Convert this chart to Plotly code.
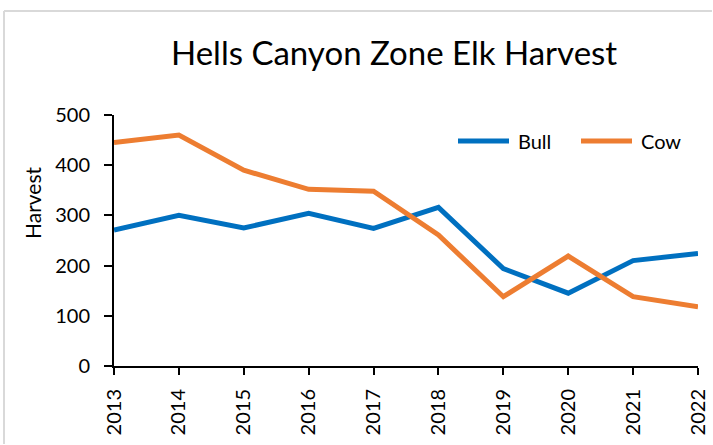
import plotly.graph_objects as go

years = [2013, 2014, 2015, 2016, 2017, 2018, 2019, 2020, 2021, 2022]
bull = [271, 300, 275, 304, 274, 316, 194, 145, 210, 224]
cow = [445, 460, 390, 352, 348, 261, 138, 219, 138, 118]
series_names = ["Bull", "Cow"]
colors = ["#0070C0", "#ED7D31"]

FONT = "Lato, Open Sans, sans-serif"
W, H = 713, 445
L, R, T, B = 114, 15, 115, 79
PW, PH = W - L - R, H - T - B


def px(x):
    return (x - L) / PW


def py(y):
    return (H - B - y) / PH


fig = go.Figure()
for name, vals, col in zip(series_names, [bull, cow], colors):
    fig.add_trace(go.Scatter(x=years, y=vals, mode="lines", name=name,
                             line=dict(color=col, width=5)))

# chart-area border (left and top edges visible in the reference)
shapes = [
    dict(type="line", xref="paper", yref="paper",
         x0=px(4), x1=px(4), y0=py(H - 1), y1=py(11),
         line=dict(color="#d9d9d9", width=2), layer="below"),
    dict(type="line", xref="paper", yref="paper",
         x0=px(4), x1=px(W - 1), y0=py(11), y1=py(11),
         line=dict(color="#d9d9d9", width=2), layer="below"),
]
annotations = []
# manual legend (wider line samples like the reference)
legend_items = [(456, 511, 516), (579, 634, 639)]
for (x0, x1, xt), name, col in zip(legend_items, series_names, colors):
    shapes.append(dict(type="line", xref="paper", yref="paper",
                       x0=px(x0 + 2), x1=px(x1 - 2), y0=py(141), y1=py(141),
                       line=dict(color=col, width=5)))
    annotations.append(dict(text=name, xref="paper", yref="paper",
                            x=px(xt), y=py(141), xanchor="left", yanchor="middle",
                            showarrow=False, font=dict(family=FONT, size=20, color="black")))

annotations.append(dict(text="Harvest", xref="paper", yref="paper",
                        x=px(32), y=py(203), xanchor="center", yanchor="middle",
                        textangle=-90, showarrow=False,
                        font=dict(family=FONT, size=21, color="black")))
annotations.append(dict(text="Hells Canyon Zone Elk Harvest", xref="paper", yref="paper",
                        x=px(394), y=py(52), xanchor="center", yanchor="middle",
                        showarrow=False,
                        font=dict(family=FONT, size=33, color="black")))

fig.update_layout(
    width=W, height=H,
    margin=dict(l=L, r=R, t=T, b=B, autoexpand=False),
    paper_bgcolor="white", plot_bgcolor="white",
    font=dict(family=FONT, size=20, color="black"),
    showlegend=False,
    xaxis=dict(range=[years[0], years[-1]], tickmode="array", tickvals=years,
               ticktext=[str(y) for y in years], tickangle=-90,
               showline=True, linecolor="black", linewidth=2,
               ticks="outside", tickcolor="black", ticklen=7, tickwidth=2,
               ticklabelstandoff=6, automargin=False,
               showgrid=False, zeroline=False, fixedrange=True),
    yaxis=dict(range=[0, 500], tickvals=[0, 100, 200, 300, 400, 500],
               showline=True, linecolor="black", linewidth=2,
               ticks="outside", tickcolor="black", ticklen=8, tickwidth=2,
               ticklabelstandoff=10, automargin=False,
               showgrid=False, zeroline=False, fixedrange=True),
    shapes=shapes,
    annotations=annotations,
)

fig.write_html("out.html", config={"displayModeBar": False},
               post_script="document.body.style.margin='0';document.body.style.overflow='hidden';")
